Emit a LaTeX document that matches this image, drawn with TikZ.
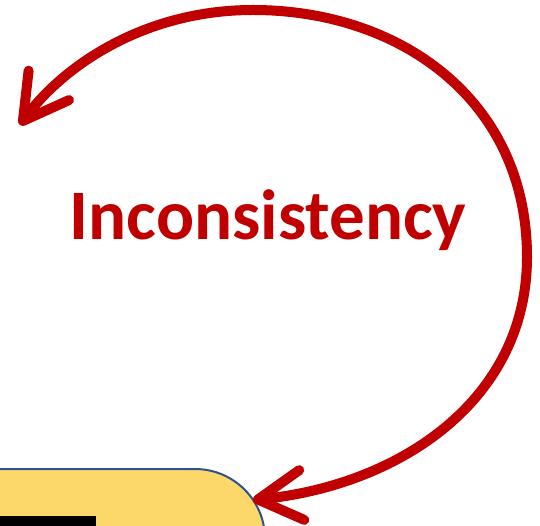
\documentclass[tikz,border=0pt]{standalone}
\usepackage{fontspec}
\setmainfont{Carlito}
\usetikzlibrary{arrows.meta}
\definecolor{darkred}{HTML}{C00000}
\definecolor{boxyellow}{HTML}{FCD86A}
\definecolor{boxblue}{HTML}{2F528F}

\begin{document}
\begin{tikzpicture}[
			x=1pt, y=-1pt,
			cyclearrow/.style={line width=10pt, draw=darkred, line cap=round,
				{Straight Barb[length=44pt,width=50pt,round]}-{Straight Barb[length=44pt,width=50pt,round]}},
			title/.style={font=\fontsize{71}{80}\selectfont\bfseries, text=darkred, anchor=base, inner sep=0pt},
			panel/.style={draw=boxblue, line width=2pt, fill=boxyellow, rounded corners=70pt}
		]

		% --- CORNICE ---
		\clip (0,0) rectangle (540,526);

		% --- RIQUADRO GIALLO ---
		\draw [panel] (-200,469) rectangle (265,720);
		\fill [black] (0,516) rectangle (96,540);

		% --- TESTO ---
		\node (label) [title] at (268,240) {Inconsistency};

		% --- FRECCIA CIRCOLARE ---
		\coordinate (boxtip) at (253,500);
		\coordinate (lefttip) at (20,125);
		\coordinate (rightmost) at (527,257);
		\coordinate (topmost) at (253,10);
		\draw [cyclearrow] (boxtip) .. controls (400,485) and (527,400) .. (rightmost)
			.. controls (527,100) and (400,10) .. (topmost)
			.. controls (140,10) and (60,70) .. (lefttip);
	\end{tikzpicture}
\end{document}
